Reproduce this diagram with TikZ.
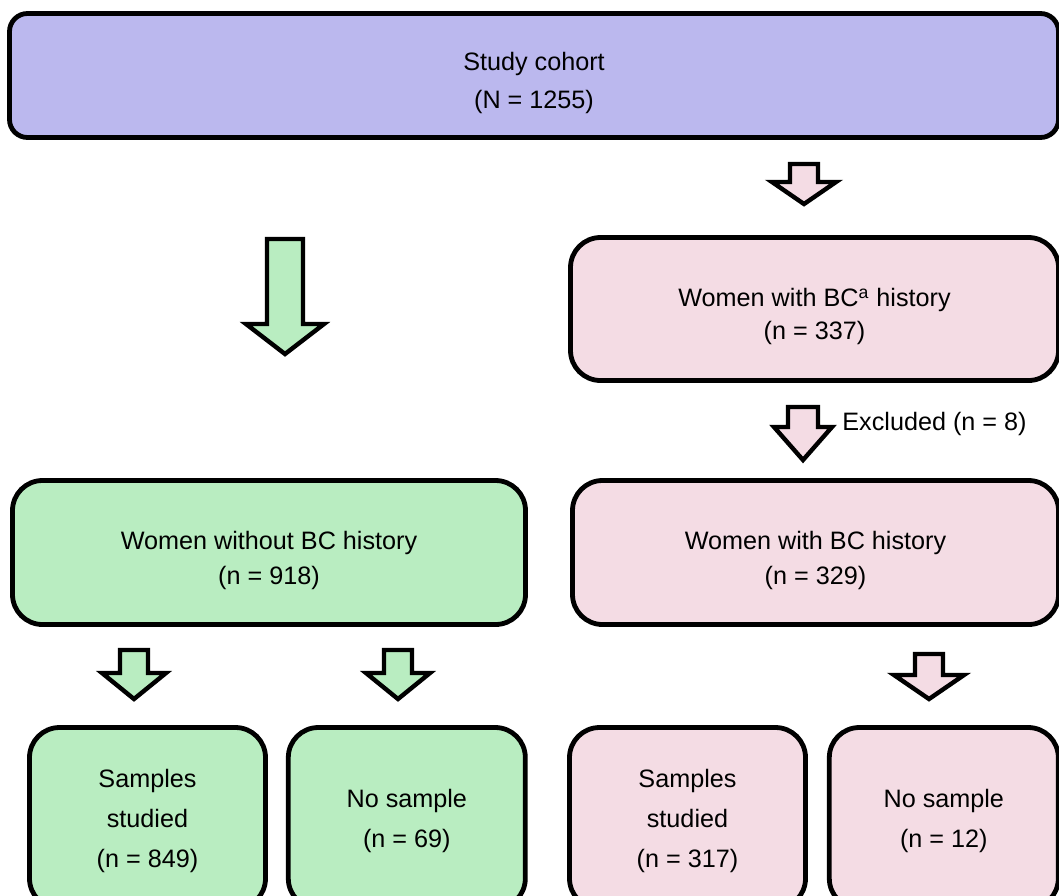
\documentclass[tikz,border=0pt]{standalone}
\usepackage{fontspec}
\setmainfont{Liberation Sans}
\usetikzlibrary{positioning}
\definecolor{cohortblue}{RGB}{187,184,238}
\definecolor{nobcgreen}{RGB}{185,237,193}
\definecolor{bcpink}{RGB}{244,220,228}
\newcommand{\TopGap}[1]{\rule{0pt}{#1}}
\newcommand{\BlockArrow}[6]{%
  \draw[blockarrow, fill=#1, shift={(#2)}] (-#3,0) -- (#3,0) -- (#3,#5) -- (#4,#5) -- (0,#5+#6) -- (-#4,#5) -- (-#3,#5) -- cycle;
}
\tikzset{
    box/.style={draw=black, line width=2.4pt, rounded corners=15pt, align=center, inner sep=0pt,
      font=\fontsize{12.6}{17.5}\selectfont},
    greenbox/.style={box, fill=nobcgreen},
    pinkbox/.style={box, fill=bcpink},
    lowbox/.style={minimum height=90.5pt, font=\fontsize{12.6}{20}\selectfont},
    blockarrow/.style={draw=black, line width=2.2pt, line join=miter},
}

\begin{document}
\begin{tikzpicture}[x=0.5pt, y=-0.5pt]
    \useasboundingbox (0,0) rectangle (1059,895);
    \clip (0,0) rectangle (1059,895);

    \node[box, fill=cohortblue, rounded corners=9pt, minimum width=524.5pt, minimum height=62pt,
      font=\fontsize{12.6}{19}\selectfont] (coh) at (534,75.5) {\TopGap{17pt}Study cohort\\(N = 1255)};
    \node[pinkbox, minimum width=244pt, minimum height=71.5pt, font=\fontsize{12.6}{16.5}\selectfont]
      (bcA) at (814.5,309) {\TopGap{17pt}Women with BC\textsuperscript{a} history\\(n = 337)};
    \node[greenbox, minimum width=256.5pt, minimum height=72pt] (nobc) at (269,552.5)
      {\TopGap{17pt}Women without BC history\\(n = 918)};
    \node[pinkbox, minimum width=243pt, minimum height=72pt] (bc) at (815.5,552.5)
      {\TopGap{17pt}Women with BC history\\(n = 329)};

    \node[greenbox, lowbox, minimum width=118pt] (ss1) at (147.5,818) {\TopGap{12pt}Samples\\studied\\(n = 849)};
    \node[greenbox, lowbox, minimum width=118.5pt, right=9pt of ss1] (ns1) {\TopGap{12pt}No sample\\(n = 69)};
    \node[pinkbox, lowbox, minimum width=118pt] (ss2) at (687.5,818) {\TopGap{12pt}Samples\\studied\\(n = 317)};
    \node[pinkbox, lowbox, minimum width=114.5pt, right=9.5pt of ss2] (ns2) {\TopGap{12pt}No sample\\(n = 12)};

    \coordinate (a1) at (804,164);
    \coordinate (a2) at (285,239);
    \coordinate (a3) at (803,407);
    \coordinate (a4) at (134,650);
    \coordinate (a5) at (398,650);
    \coordinate (a6) at (929,654);

    \BlockArrow{bcpink}{a1}{14}{32}{18}{22}
    \BlockArrow{nobcgreen}{a2}{18}{39}{85}{30}
    \BlockArrow{bcpink}{a3}{15}{29}{20}{33}
    \BlockArrow{nobcgreen}{a4}{14}{32}{23}{26}
    \BlockArrow{nobcgreen}{a5}{14}{32}{23}{26}
    \BlockArrow{bcpink}{a6}{14}{35}{21}{24}

    \node[anchor=west, inner sep=0pt, font=\fontsize{12.6}{15}\selectfont] (ex) at (842,424) {Excluded (n = 8)};
\end{tikzpicture}
\end{document}
